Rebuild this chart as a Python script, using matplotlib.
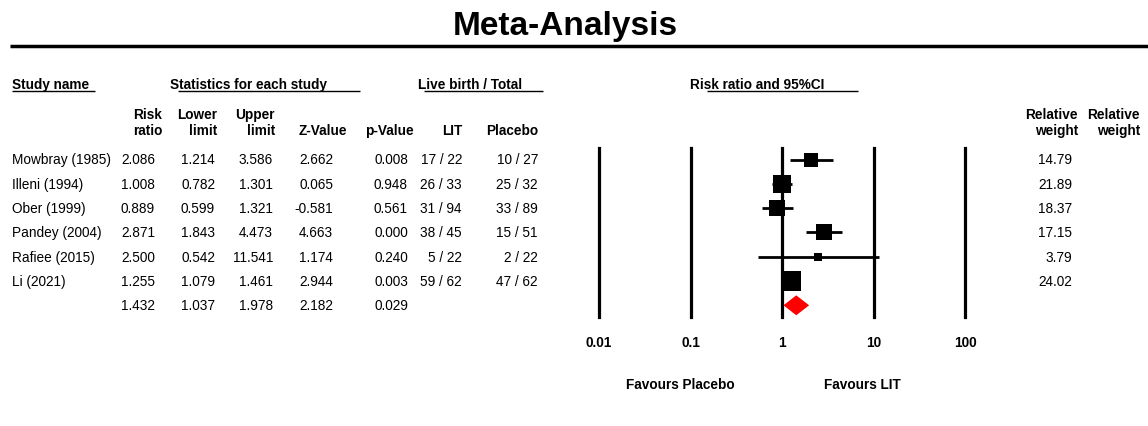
import matplotlib
matplotlib.use("Agg")
import matplotlib.pyplot as plt
import numpy as np
from matplotlib.transforms import blended_transform_factory

plt.rcParams['font.family'] = ['Liberation Sans', 'DejaVu Sans']

studies = ["Mowbray (1985)", "Illeni (1994)", "Ober (1999)", "Pandey (2004)", "Rafiee (2015)", "Li (2021)"]
rr = [2.086, 1.008, 0.889, 2.871, 2.500, 1.255]
lower = [1.214, 0.782, 0.599, 1.843, 0.542, 1.079]
upper = [3.586, 1.301, 1.321, 4.473, 11.541, 1.461]
zval = [2.662, 0.065, -0.581, 4.663, 1.174, 2.944]
pval = [0.008, 0.948, 0.561, 0.000, 0.240, 0.003]
lit = ["17 / 22", "26 / 33", "31 / 94", "38 / 45", "5 / 22", "59 / 62"]
placebo = ["10 / 27", "25 / 32", "33 / 89", "15 / 51", "2 / 22", "47 / 62"]
weights = [14.79, 21.89, 18.37, 17.15, 3.79, 24.02]
summary = {"rr": 1.432, "lower": 1.037, "upper": 1.978, "z": 2.182, "p": 0.029}
ticks = [0.01, 0.1, 1, 10, 100]
tick_labels = ["0.01", "0.1", "1", "10", "100"]

W, H = 1148, 427
fig = plt.figure(figsize=(W / 100, H / 100), dpi=100)

# overlay axes in pixel coordinates
ov = fig.add_axes([0, 0, 1, 1])
ov.set_xlim(0, W)
ov.set_ylim(H, 0)
ov.axis("off")

fs = 9.8
row0, dy = 160.5, 24.3

ov.text(565, 26, "Meta-Analysis", fontsize=24, fontweight="bold", ha="center", va="center")
ov.hlines(47, 10, W, color="black", lw=2.5)

# group headers
hy = 85
ov.text(12, hy, "Study name", fontsize=fs, fontweight="bold", va="center")
ov.hlines(92, 12, 95, color="black", lw=1)
ov.text(170, hy, "Statistics for each study", fontsize=fs, fontweight="bold", va="center")
ov.hlines(92, 178, 360, color="black", lw=1)
ov.text(418, hy, "Live birth / Total", fontsize=fs, fontweight="bold", va="center")
ov.hlines(92, 424, 543, color="black", lw=1)
ov.text(690, hy, "Risk ratio and 95%CI", fontsize=fs, fontweight="bold", va="center")
ov.hlines(92, 707, 858, color="black", lw=1)

# column headers
h1, h2 = 115, 131
for x, t1, t2 in [(162, "Risk", "ratio"), (217, "Lower", "limit"), (275, "Upper", "limit"),
                  (1078, "Relative", "weight"), (1140, "Relative", "weight")]:
    ov.text(x, h1, t1, fontsize=fs, fontweight="bold", ha="right", va="center")
    ov.text(x, h2, t2, fontsize=fs, fontweight="bold", ha="right", va="center")
for x, t in [(347, "Z-Value"), (414, "p-Value"), (462, "LIT"), (538, "Placebo")]:
    ov.text(x, h2, t, fontsize=fs, fontweight="bold", ha="right", va="center")

# data rows
cols_x = [155, 215, 273, 333, 408, 462, 538]
for i, s in enumerate(studies):
    y = row0 + i * dy
    ov.text(12, y, s, fontsize=fs, va="center")
    vals = [f"{rr[i]:.3f}", f"{lower[i]:.3f}", f"{upper[i]:.3f}", f"{zval[i]:.3f}",
            f"{pval[i]:.3f}", lit[i], placebo[i]]
    for x, v in zip(cols_x, vals):
        ov.text(x, y, v, fontsize=fs, ha="right", va="center")
    ov.text(1072, y, f"{weights[i]:.2f}", fontsize=fs, ha="right", va="center")
ys = row0 + len(studies) * dy
for x, v in zip(cols_x[:5], [summary["rr"], summary["lower"], summary["upper"], summary["z"], summary["p"]]):
    ov.text(x, ys, f"{v:.3f}", fontsize=fs, ha="right", va="center")

# forest axes
x0, x1 = 599, 965
ytop, ybot = 149, 318
ax = fig.add_axes([x0 / W, 1 - ybot / H, (x1 - x0) / W, (ybot - ytop) / H])
ax.set_xscale("log")
ax.set_xlim(0.01, 100)
ax.set_ylim((ybot - row0) / dy, (ytop - row0) / dy)
ax.axis("off")
for t in ticks:
    ax.axvline(t, color="black", lw=2.3, clip_on=False)

for i in range(len(studies)):
    ax.plot([lower[i], upper[i]], [i, i], color="black", lw=2.0, solid_capstyle="butt")
    side_px = 3.9 * np.sqrt(weights[i])
    ax.plot([rr[i]], [i], marker="s", color="black", markersize=side_px * 0.72,
            markeredgewidth=0, linestyle="none")

n = len(studies)
dh = 0.41
ax.fill([summary["lower"], summary["rr"], summary["upper"], summary["rr"]],
        [n, n - dh, n, n + dh], color="red", lw=0, clip_on=False)

tr = blended_transform_factory(ax.transData, ov.transData)
for t, lab in zip(ticks, tick_labels):
    ax.text(t, 343, lab, transform=tr, fontsize=fs, fontweight="bold", ha="center", va="center")
ov.text(680, 385, "Favours Placebo", fontsize=fs, fontweight="bold", ha="center", va="center")
ov.text(862, 385, "Favours LIT", fontsize=fs, fontweight="bold", ha="center", va="center")

fig.savefig("out.png", dpi=100)
